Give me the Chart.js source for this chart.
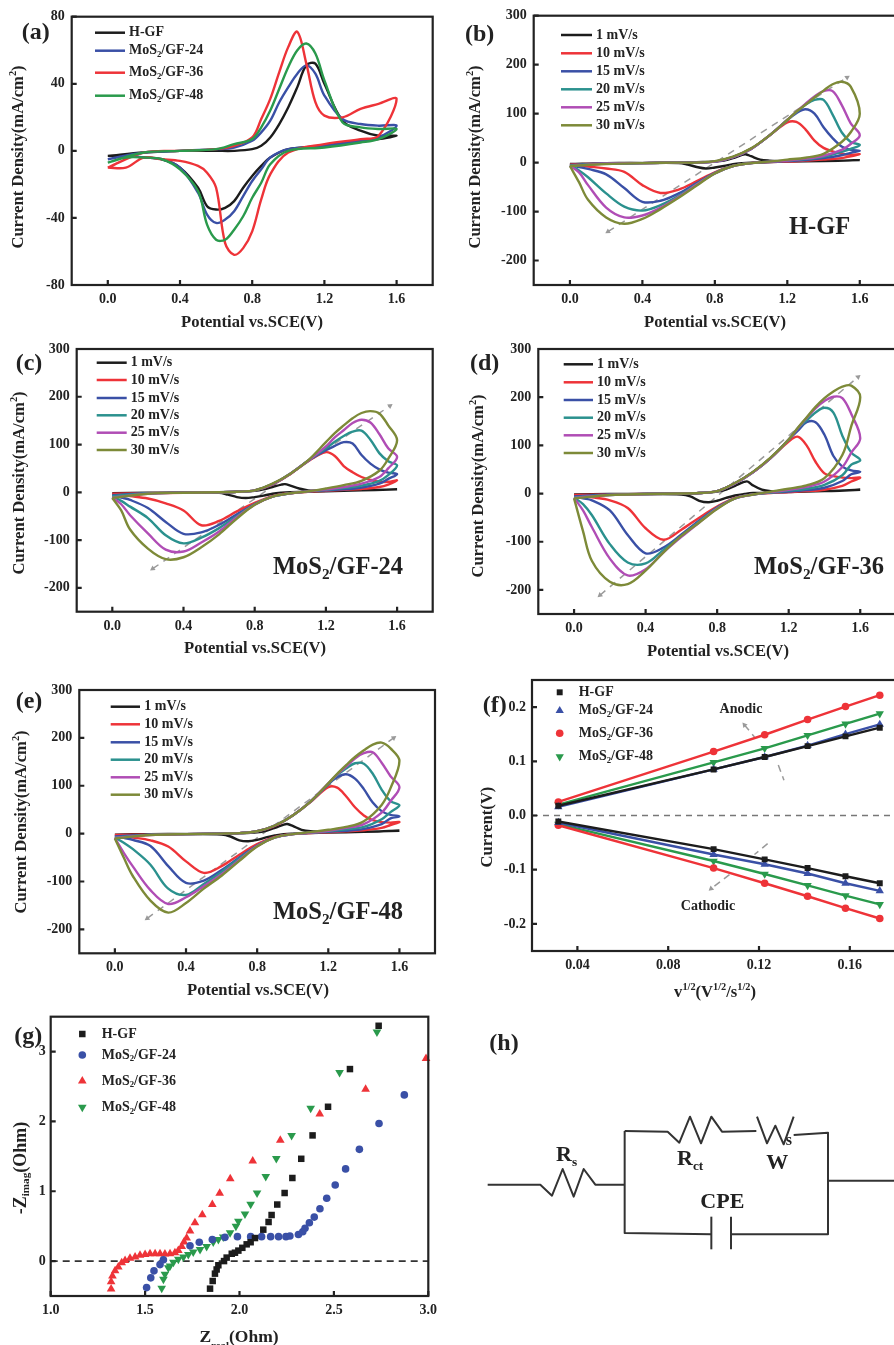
<!DOCTYPE html>
<html>
<head>
<meta charset="utf-8">
<title>CV and EIS panels</title>
<script src="https://cdn.jsdelivr.net/npm/chart.js@4/dist/chart.umd.js"></script>
<style>
  html, body { margin: 0; padding: 0; background: #fff; overflow: hidden; }
  /* the source figure is a soft scan, a touch of blur gets closer to it */
  #page { position: relative; width: 894px; height: 1345px; overflow: hidden; filter: blur(0.5px); }
  #page canvas { position: absolute; left: 0; top: 0; }
  #circuit { position: absolute; left: 447px; top: 1005px; }
  #circuit text { font-family: "Liberation Serif", serif; font-weight: bold; fill: #222; }
</style>
</head>
<body>
<div id="page">
  <canvas id="panelA" width="900" height="1345"></canvas>
  <canvas id="panelB" width="900" height="1345"></canvas>
  <canvas id="panelC" width="900" height="1345"></canvas>
  <canvas id="panelD" width="900" height="1345"></canvas>
  <canvas id="panelE" width="900" height="1345"></canvas>
  <canvas id="panelF" width="900" height="1345"></canvas>
  <canvas id="panelG" width="900" height="1345"></canvas>
  <!-- (h) is a circuit sketch, no data in it -->
  <svg id="circuit" width="447" height="340" viewBox="0 0 1341 1020">
    <g fill="none" stroke="#333" stroke-width="6" stroke-linejoin="round">
      <polyline points="122,539 280,539 315,572 347,492 380,575 410,492 445,539 533,539"/>
      <polyline points="533,378 533,684 793,688"/>
      <polyline points="533,378 662,380 697,413 729,335 762,415 793,335 825,380 928,378"/>
      <polyline points="930,335 960,415 985,362 1010,418 1040,335"/>
      <polyline points="1040,390 1143,383 1143,688 852,688"/>
      <line x1="793" y1="635" x2="793" y2="733"/>
      <line x1="852" y1="635" x2="852" y2="733"/>
      <line x1="1143" y1="527" x2="1341" y2="527"/>
    </g>
    <text x="127" y="134" font-size="72">(h)</text>
    <text x="327" y="468" font-size="66">R<tspan font-size="40" dy="14">s</tspan></text>
    <text x="690" y="480" font-size="66">R<tspan font-size="40" dy="14">ct</tspan></text>
    <text x="958" y="492" font-size="66">W</text>
    <text x="1016" y="420" font-size="48">s</text>
    <text x="760" y="608" font-size="66">CPE</text>
  </svg>
</div>

<script>
// ---- data ----

// (a) sweep, forward then back
const aPotential = [0,.2,.4,.6,.7,.8,.85,.9,.95,1,1.05,1.1,1.15,1.2,1.3,1.4,1.5,1.6,
  1.5,1.4,1.2,1,.9,.85,.8,.75,.7,.65,.6,.55,.5,.4,.3,.2,.1,0];
const aHGF = [-3,-1,0,0,0,1,3,8,16,26,38,51,52,40,18,12,9,9,
  7,6,3,1,-4,-9,-15,-22,-30,-34,-35,-33,-22,-10,-5,-4,-3,-3];
const aMoS24 = [-5,-1,0,1,2,6,11,18,29,38,46,51,46,33,19,16,15,15,
  8,6,3,1,-4,-11,-18,-27,-36,-41,-43,-38,-25,-10,-5,-4,-3,-5];
const aMoS36 = [-10,-1,0,1,3,8,19,31,47,62,71,52,29,21,20,25,28,31,
  9,7,4,-1,-14,-29,-48,-58,-62,-55,-22,-13,-9,-6,-5,-4,-10,-10];
const aMoS48 = [-7,-1,0,1,4,7,14,24,37,50,60,64,58,42,17,14,13,13,
  7,5,2,0,-8,-19,-28,-39,-47,-53,-53,-44,-24,-11,-5,-4,-4,-7];

// (b)-(e) shared sweep for 10-30 mV/s
const cvPotential = [0,.2,.4,.6,.7,.8,.9,1,1.1,1.2,1.25,1.3,1.35,1.4,1.45,1.5,1.55,1.6,
  1.55,1.5,1.4,1.3,1.2,1.1,1,.9,.8,.7,.6,.5,.4,.3,.2,.1,.05,0];
// 1 mV/s needs its own points around the small peaks
const slowPotential = [0,.3,.6,.7,.8,.85,.9,.95,.97,1,1.05,1.1,1.2,1.4,1.6,
  1.4,1.2,1,.95,.9,.85,.8,.75,.7,.65,.6,.4,.2,0];
const rateLabels = ["1 mV/s", "10 mV/s", "15 mV/s", "20 mV/s", "25 mV/s", "30 mV/s"];

const b1 = [-3,-1,0,1,2,4,9,16,17,13,6,4,3,3,5, 3,2,0,-1,-3,-7,-10,-12,-9,-4,-1,-1,-1,-3];
const b10 = [-4,-2,-1,0,0,2,11,28,55,82,83,68,45,30,23,18,16,17,
  13,9,6,4,2,1,-1,-7,-20,-38,-55,-62,-46,-19,-12,-8,-6,-4];
const b15 = [-5,-2,-1,0,0,2,11,28,55,87,101,109,100,72,50,33,26,24,
  20,15,9,5,3,1,-1,-7,-21,-42,-63,-78,-80,-52,-24,-13,-9,-5];
const b20 = [-6,-2,-1,0,0,2,11,28,55,87,103,118,128,128,98,62,42,36,
  28,22,12,7,4,2,-1,-7,-22,-44,-68,-87,-98,-90,-63,-30,-16,-6];
const b25 = [-7,-2,-1,0,0,2,11,28,55,87,104,120,135,146,146,118,80,56,
  38,26,14,8,4,2,-1,-7,-22,-45,-70,-92,-108,-112,-92,-46,-20,-7];
const b30 = [-7,-3,-1,0,0,3,12,29,55,87,104,118,133,147,160,165,155,100,
  62,42,18,10,6,2,-1,-7,-22,-47,-72,-95,-115,-125,-112,-76,-40,-7];

const c1 = [-2,-1,0,1,3,6,11,16,17,14,8,4,3,4,6, 4,2,0,-1,-3,-7,-10,-12,-10,-5,-1,-1,-1,-2];
const c10 = [-3,-2,-1,0,1,4,16,38,65,84,76,55,42,32,26,22,22,25,
  16,11,7,5,3,1,-2,-8,-22,-40,-60,-69,-38,-23,-13,-8,-6,-3];
const c15 = [-6,-2,-1,0,1,4,17,39,66,88,97,105,102,78,60,48,41,38,
  28,18,10,6,4,2,-2,-9,-25,-46,-68,-84,-87,-62,-33,-16,-11,-6];
const c20 = [-8,-2,-1,0,1,4,17,39,66,92,106,118,127,129,110,82,65,56,
  36,24,14,9,5,2,-2,-9,-25,-50,-75,-95,-107,-90,-54,-30,-18,-8];
const c25 = [-11,-3,-1,0,1,4,17,39,66,96,115,130,145,152,146,122,92,74,
  50,32,18,11,6,2,-2,-9,-26,-52,-82,-105,-124,-120,-86,-48,-25,-11];
const c30 = [-12,-3,-1,0,1,4,18,39,67,105,124,140,155,166,170,165,140,109,
  70,45,24,15,8,2,-2,-9,-26,-55,-88,-115,-136,-140,-118,-78,-38,-12];

const d1 = [-2,-1,0,1,4,8,16,24,25,17,8,5,4,5,8, 5,3,1,-1,-4,-9,-15,-18,-15,-6,-2,-1,-1,-2];
const d10 = [-3,-2,-1,0,1,5,21,44,74,108,118,100,66,42,36,33,32,33,
  25,16,8,5,3,1,-2,-9,-27,-50,-75,-96,-72,-30,-14,-8,-6,-3];
const d15 = [-6,-2,-1,0,1,5,21,44,74,112,130,148,148,122,78,56,48,45,
  40,26,12,7,4,2,-2,-10,-29,-56,-85,-112,-124,-86,-35,-14,-10,-6];
const d20 = [-8,-3,-1,0,1,5,21,44,74,112,135,152,168,178,168,120,85,69,
  60,38,18,10,6,2,-2,-10,-30,-58,-88,-117,-145,-143,-105,-45,-22,-8];
const d25 = [-9,-3,-1,0,1,5,21,44,74,112,135,157,177,192,201,198,165,115,
  85,55,25,14,8,3,-2,-10,-31,-60,-90,-122,-157,-170,-135,-70,-35,-9];
const d30 = [-10,-3,-1,0,1,5,22,45,75,112,136,158,180,198,212,222,224,200,
  140,80,32,17,10,4,-2,-10,-32,-60,-88,-122,-160,-188,-183,-140,-78,-10];

const e1 = [-2,-1,0,1,3,6,12,19,20,16,8,5,4,4,6, 4,2,0,-1,-4,-8,-13,-16,-14,-6,-2,-1,-1,-2];
const e10 = [-3,-2,-1,0,1,5,16,38,66,97,96,78,55,38,28,24,23,24,
  18,12,7,5,3,1,-1,-7,-22,-44,-68,-82,-58,-27,-14,-8,-6,-3];
const e15 = [-6,-2,-1,0,1,5,17,38,67,103,118,124,115,93,65,47,39,36,
  32,20,10,6,4,2,-1,-8,-25,-50,-76,-98,-103,-68,-26,-13,-9,-6];
const e20 = [-8,-2,-1,0,1,5,17,38,67,104,122,136,147,146,125,92,68,59,
  45,30,14,9,5,2,-1,-8,-26,-52,-80,-105,-128,-115,-65,-32,-19,-8];
const e25 = [-9,-3,-1,0,1,5,17,38,67,105,124,140,157,168,170,148,120,97,
  68,44,20,12,6,2,-1,-8,-26,-55,-85,-110,-133,-147,-118,-68,-40,-9];
const e30 = [-10,-3,-1,0,1,5,17,38,67,105,125,143,160,174,186,190,178,152,
  95,60,26,14,8,3,-1,-8,-27,-57,-88,-115,-145,-165,-140,-88,-50,-10];

// grey dashed guides across the loops, low end then high end
const bGuideX = [.21, 1.53],  bGuideY = [-141, 174];
const cGuideX = [.227, 1.56], cGuideY = [-160, 181];
const dGuideX = [.145, 1.588], dGuideY = [-211, 242];
const eGuideX = [.182, 1.568], eGuideY = [-177, 200];

// (f) peak current against root of scan rate
const scanRoot = [.0316, .1, .1225, .1414, .1581, .1732];
const fAnodicHGF = [.018, .085, .108, .128, .146, .162];
const fAnodic24 = [.016, .085, .108, .129, .150, .168];
const fAnodic36 = [.025, .118, .149, .177, .201, .222];
const fAnodic48 = [.020, .098, .124, .148, .169, .188];
const fCathodicHGF = [-.011, -.062, -.081, -.097, -.112, -.125];
const fCathodic24 = [-.013, -.072, -.090, -.107, -.125, -.139];
const fCathodic36 = [-.018, -.097, -.125, -.149, -.171, -.190];
const fCathodic48 = [-.016, -.084, -.108, -.129, -.148, -.164];

// short grey pointers next to the Anodic / Cathodic labels
const fPointer1X = [.1136, .118],  fPointer1Y = [.167, .145];
const fPointer2X = [.1285, .131],  fPointer2Y = [.093, .065];
const fPointer3X = [.1238, .118],  fPointer3Y = [-.052, -.072];
const fPointer4X = [.107, .0989],  fPointer4Y = [-.109, -.135];

// (g) Nyquist points
const gHgfRe = [1.844,1.858,1.87,1.879,1.888,1.918,1.932,1.959,1.976,1.994,2.015,2.038,2.059,2.082,2.126,2.154,2.17,2.2,2.239,2.28,2.327,2.387,2.469,2.585,2.737];
const gHgfIm = [-.395,-.285,-.18,-.12,-.06,0,.05,.105,.12,.15,.19,.24,.27,.33,.45,.56,.66,.81,.975,1.19,1.465,1.8,2.21,2.75,3.37];
const g24Re = [1.508,1.53,1.547,1.579,1.597,1.738,1.787,1.856,1.923,1.989,2.059,2.117,2.165,2.207,2.246,2.267,2.312,2.335,2.347,2.37,2.396,2.426,2.462,2.507,2.562,2.635,2.739,2.873];
const g24Im = [-.38,-.24,-.14,-.05,.02,.22,.27,.31,.34,.35,.35,.35,.35,.35,.35,.36,.38,.42,.47,.55,.63,.75,.9,1.09,1.32,1.6,1.97,2.38];
const g36Re = [1.32,1.32,1.327,1.341,1.358,1.376,1.394,1.42,1.447,1.473,1.5,1.526,1.553,1.579,1.605,1.632,1.658,1.676,1.694,1.706,1.72,1.738,1.764,1.803,1.856,1.895,1.951,2.07,2.216,2.425,2.668,2.988];
const g36Im = [-.4,-.295,-.215,-.14,-.085,-.025,.01,.04,.06,.085,.095,.105,.105,.105,.1,.105,.12,.15,.21,.275,.33,.43,.55,.665,.81,.97,1.18,1.435,1.73,2.105,2.46,2.9];
const g48Re = [1.588,1.597,1.605,1.623,1.632,1.65,1.676,1.703,1.729,1.755,1.791,1.826,1.861,1.888,1.914,1.95,1.981,1.994,2.029,2.059,2.093,2.139,2.195,2.276,2.377,2.53,2.728];
const g48Im = [-.39,-.26,-.19,-.095,-.07,-.015,.025,.06,.095,.13,.165,.21,.275,.31,.345,.405,.5,.57,.675,.815,.975,1.21,1.47,1.8,2.19,2.7,3.28];

// tick lists
const cvXTicks = [0, .4, .8, 1.2, 1.6];
const aYTicks = [-80, -40, 0, 40, 80];
const cvYTicks = [-200, -100, 0, 100, 200, 300];
const fXTicks = [.04, .08, .12, .16];
const fYTicks = [-.2, -.1, 0, .1, .2];
const gXTicks = [1, 1.5, 2, 2.5, 3];
const gYTicks = [0, 1, 2, 3];

// ---- drawing ----

const serif = '"Liberation Serif", "Times New Roman", serif';
const ink = "#222";
const cBlack = "#1c1c1c", cRed = "#ee3338", cBlue = "#3a50a6", cTeal = "#2b918e", cPurple = "#b04db5", cOlive = "#7d8a38", cGreen = "#2a9a4c", cGuide = "#9a9a9a";
const rateColors = [cBlack, cRed, cBlue, cTeal, cPurple, cOlive];

function pairs(xs, ys) {
  return xs.map((x, i) => ({ x: x, y: ys[i] }));
}

// text with _{sub} and ^{sup} parts, canvas has no markup of its own
function drawRich(ctx, item) {
  const size = item.size || 16;
  const drop = item.subDrop || .3;
  const parts = item.text.split(/([_^]\{[^}]*\})/).filter(p => p !== "").map(p => {
    if (p[0] === "_" && p[1] === "{") return { s: p.slice(2, -1), size: size * .62, dy: size * drop };
    if (p[0] === "^" && p[1] === "{") return { s: p.slice(2, -1), size: size * .62, dy: -size * .36 };
    return { s: p, size: size, dy: 0 };
  });
  let total = 0;
  parts.forEach(p => {
    ctx.font = "bold " + p.size + "px " + serif;
    p.w = ctx.measureText(p.s).width;
    total += p.w;
  });
  ctx.save();
  ctx.translate(item.x, item.y);
  if (item.rotate) ctx.rotate(-Math.PI / 2);
  ctx.fillStyle = ink;
  ctx.textAlign = "left";
  ctx.textBaseline = "middle";
  let cursor = item.align === "left" ? 0 : -total / 2;
  parts.forEach(p => {
    ctx.font = "bold " + p.size + "px " + serif;
    ctx.fillText(p.s, cursor, p.dy);
    cursor += p.w;
  });
  ctx.restore();
}

function makePanel(id, cfg) {
  const f = cfg.frame;
  const W = 900, H = 1345;

  const decor = {
    id: "decor",
    afterDraw(chart) {
      const ctx = chart.ctx;
      const area = chart.chartArea;
      ctx.save();
      ctx.strokeStyle = ink;
      ctx.lineWidth = 2.2;
      ctx.strokeRect(area.left, area.top, area.right - area.left, area.bottom - area.top);
      // ticks point inward
      ctx.beginPath();
      chart.scales.x.ticks.forEach(t => {
        const px = chart.scales.x.getPixelForValue(t.value);
        ctx.moveTo(px, area.bottom);
        ctx.lineTo(px, area.bottom - 5);
      });
      chart.scales.y.ticks.forEach(t => {
        const py = chart.scales.y.getPixelForValue(t.value);
        ctx.moveTo(area.left, py);
        ctx.lineTo(area.left + 5, py);
      });
      ctx.stroke();
      // legend, one row per labelled dataset
      const rows = chart.data.datasets.filter(d => d.label);
      rows.forEach((d, i) => {
        const y = cfg.legend.rows[i];
        if (cfg.legend.lineTo) {
          ctx.strokeStyle = d.borderColor;
          ctx.lineWidth = 2.5;
          ctx.beginPath();
          ctx.moveTo(cfg.legend.lineFrom, y);
          ctx.lineTo(cfg.legend.lineTo, y);
          ctx.stroke();
        } else {
          ctx.fillStyle = d.pointBackgroundColor;
          ctx.strokeStyle = d.pointBackgroundColor;
          Chart.helpers.drawPoint(ctx, { pointStyle: d.pointStyle, rotation: d.pointRotation, radius: d.pointRadius, borderWidth: 0 }, cfg.legend.marker, y);
        }
        drawRich(ctx, { text: d.label, x: cfg.legend.text, y: y, size: 14, align: "left" });
      });
      cfg.texts.forEach(t => drawRich(ctx, t));
      ctx.restore();
    }
  };

  return new Chart(document.getElementById(id), {
    type: "scatter",
    data: { datasets: cfg.datasets },
    options: {
      responsive: false,
      animation: false,
      devicePixelRatio: 1,
      layout: { padding: { left: 0, bottom: 0, top: f.top, right: W - f.right } },
      plugins: { legend: { display: false }, title: { display: false }, tooltip: { enabled: false } },
      scales: {
        x: {
          type: "linear",
          min: cfg.xMin,
          max: cfg.xMax,
          grid: { display: false, drawTicks: false },
          border: { display: false },
          afterFit(s) { s.height = H - f.bottom; },
          afterBuildTicks(s) { s.ticks = cfg.xTicks.map(v => ({ value: v })); },
          ticks: {
            autoSkip: false, maxRotation: 0, padding: 6, color: ink,
            font: { family: serif, weight: "bold", size: 14 },
            callback: v => v.toFixed(cfg.xDigits)
          }
        },
        y: {
          type: "linear",
          min: cfg.yMin,
          max: cfg.yMax,
          grid: { display: false, drawTicks: false },
          border: { display: false },
          afterFit(s) { s.width = f.left; },
          afterBuildTicks(s) { s.ticks = cfg.yTicks.map(v => ({ value: v })); },
          ticks: {
            autoSkip: false, padding: cfg.yPad || 7, color: ink,
            font: { family: serif, weight: "bold", size: 14 },
            callback: v => v.toFixed(cfg.yDigits)
          }
        }
      }
    },
    plugins: [decor]
  });
}

function cvLine(label, xs, ys, color, i) {
  return { label: label, data: pairs(xs, ys), showLine: true, tension: .35, borderColor: color, borderWidth: 2.4, pointRadius: 0, order: 20 - i };
}

function guide(xs, ys, rotations) {
  return { data: pairs(xs, ys), showLine: true, borderColor: cGuide, borderWidth: 1.5, borderDash: [7, 6],
    pointStyle: "triangle", pointRadius: 3.2, pointBackgroundColor: cGuide, pointBorderWidth: 0, pointRotation: rotations, order: 30 };
}

function ratePanel(curves, guideLine) {
  const sets = curves.map((ys, i) => cvLine(rateLabels[i], i === 0 ? slowPotential : cvPotential, ys, rateColors[i], i));
  sets.push(guideLine);
  return sets;
}

function fitLine(label, ys, color, style, rotation, radius) {
  return { label: label, data: pairs(scanRoot, ys), showLine: true, borderColor: color, borderWidth: 2.4,
    pointStyle: style, pointRotation: rotation, pointRadius: radius, pointBackgroundColor: color, pointBorderColor: color, pointBorderWidth: 0 };
}

function nyquist(label, xs, ys, color, style, rotation, radius) {
  return { label: label, data: pairs(xs, ys), showLine: false, clip: false,
    pointStyle: style, pointRotation: rotation, pointRadius: radius, pointBackgroundColor: color, pointBorderWidth: 0 };
}

function pointer(xs, ys, radii, rotations) {
  return { data: pairs(xs, ys), showLine: true, borderColor: cGuide, borderWidth: 1.5, borderDash: [7, 5],
    pointStyle: "triangle", pointRadius: radii, pointBackgroundColor: cGuide, pointBorderWidth: 0, pointRotation: rotations, order: 30 };
}

const yTitle = "Current Density(mA/cm^{2})";
const xTitle = "Potential vs.SCE(V)";
const titleSize = 16.6;

makePanel("panelA", {
  frame: { left: 71.7, top: 16.7, right: 432.7, bottom: 285 },
  xMin: -.2, xMax: 1.8, yMin: -80, yMax: 80, xTicks: cvXTicks, yTicks: aYTicks, xDigits: 1, yDigits: 0,
  datasets: [
    cvLine("H-GF", aPotential, aHGF, cBlack, 0),
    cvLine("MoS_{2}/GF-24", aPotential, aMoS24, cBlue, 1),
    cvLine("MoS_{2}/GF-36", aPotential, aMoS36, cRed, 2),
    cvLine("MoS_{2}/GF-48", aPotential, aMoS48, cGreen, 3)
  ],
  legend: { lineFrom: 95, lineTo: 125, text: 129, rows: [32.7, 50.7, 72.7, 95.7] },
  texts: [
    { text: "(a)", x: 21.7, y: 33, size: 24, align: "left" },
    { text: yTitle, x: 19, y: 157, size: titleSize, rotate: true },
    { text: xTitle, x: 252, y: 323, size: titleSize }
  ]
});

makePanel("panelB", {
  frame: { left: 533.7, top: 15.7, right: 896.6, bottom: 285 },
  xMin: -.2, xMax: 1.8, yMin: -250, yMax: 300, xTicks: cvXTicks, yTicks: cvYTicks, xDigits: 1, yDigits: 0,
  datasets: ratePanel([b1, b10, b15, b20, b25, b30], guide(bGuideX, bGuideY, [237, 57])),
  legend: { lineFrom: 561, lineTo: 592, text: 596, rows: [35, 53.3, 71.3, 89.3, 107.3, 125.3] },
  texts: [
    { text: "(b)", x: 465, y: 35, size: 24, align: "left" },
    { text: "H-GF", x: 789, y: 228, size: 24.5, align: "left" },
    { text: yTitle, x: 476, y: 157, size: titleSize, rotate: true },
    { text: xTitle, x: 715, y: 323, size: titleSize }
  ]
});

makePanel("panelC", {
  frame: { left: 76.7, top: 349, right: 432.7, bottom: 611.7 },
  xMin: -.2, xMax: 1.8, yMin: -250, yMax: 300, xTicks: cvXTicks, yTicks: cvYTicks, xDigits: 1, yDigits: 0,
  datasets: ratePanel([c1, c10, c15, c20, c25, c30], guide(cGuideX, cGuideY, [236, 56])),
  legend: { lineFrom: 96.7, lineTo: 126.7, text: 130.7, rows: [362.7, 380, 398, 415.3, 432.7, 450] },
  texts: [
    { text: "(c)", x: 15.7, y: 364, size: 24, align: "left" },
    { text: "MoS_{2}/GF-24", x: 273, y: 568, size: 24.5, align: "left" },
    { text: yTitle, x: 20, y: 483, size: titleSize, rotate: true },
    { text: xTitle, x: 255, y: 649, size: titleSize }
  ]
});

makePanel("panelD", {
  frame: { left: 538.3, top: 349, right: 896, bottom: 614 },
  xMin: -.2, xMax: 1.8, yMin: -250, yMax: 300, xTicks: cvXTicks, yTicks: cvYTicks, xDigits: 1, yDigits: 0,
  datasets: ratePanel([d1, d10, d15, d20, d25, d30], guide(dGuideX, dGuideY, [230, 50])),
  legend: { lineFrom: 563.7, lineTo: 593, text: 597, rows: [364.3, 382.3, 400, 417.7, 435.3, 453] },
  texts: [
    { text: "(d)", x: 470, y: 364, size: 24, align: "left" },
    { text: "MoS_{2}/GF-36", x: 754, y: 568, size: 24.5, align: "left" },
    { text: yTitle, x: 479, y: 486, size: titleSize, rotate: true },
    { text: xTitle, x: 718, y: 652, size: titleSize }
  ]
});

makePanel("panelE", {
  frame: { left: 79.3, top: 690, right: 435, bottom: 953.3 },
  xMin: -.2, xMax: 1.8, yMin: -250, yMax: 300, xTicks: cvXTicks, yTicks: cvYTicks, xDigits: 1, yDigits: 0,
  datasets: ratePanel([e1, e10, e15, e20, e25, e30], guide(eGuideX, eGuideY, [234, 54])),
  legend: { lineFrom: 110.7, lineTo: 140, text: 144.3, rows: [706.7, 724.3, 742.3, 759.7, 777.3, 794.7] },
  texts: [
    { text: "(e)", x: 15.7, y: 702, size: 24, align: "left" },
    { text: "MoS_{2}/GF-48", x: 273, y: 913, size: 24.5, align: "left" },
    { text: yTitle, x: 22, y: 822, size: titleSize, rotate: true },
    { text: xTitle, x: 258, y: 991, size: titleSize }
  ]
});

makePanel("panelF", {
  frame: { left: 532, top: 680, right: 897, bottom: 951 },
  xMin: .02, xMax: .18, yMin: -.25, yMax: .25, xTicks: fXTicks, yTicks: fYTicks, xDigits: 2, yDigits: 1, yPad: 6,
  datasets: [
    fitLine("H-GF", fAnodicHGF, cBlack, "rect", 0, 4.2),
    fitLine("MoS_{2}/GF-24", fAnodic24, cBlue, "triangle", 0, 4.8),
    fitLine("MoS_{2}/GF-36", fAnodic36, cRed, "circle", 0, 3.8),
    fitLine("MoS_{2}/GF-48", fAnodic48, cGreen, "triangle", 180, 4.8),
    fitLine("", fCathodicHGF, cBlack, "rect", 0, 4.2),
    fitLine("", fCathodic24, cBlue, "triangle", 0, 4.8),
    fitLine("", fCathodic36, cRed, "circle", 0, 3.8),
    fitLine("", fCathodic48, cGreen, "triangle", 180, 4.8),
    { data: pairs([.02, .18], [0, 0]), showLine: true, borderColor: "#777", borderWidth: 1.3, borderDash: [6, 5], pointRadius: 0 },
    pointer(fPointer1X, fPointer1Y, [3.2, 0], [320, 0]),
    pointer(fPointer2X, fPointer2Y, [0, 0], [0, 0]),
    pointer(fPointer3X, fPointer3Y, [0, 0], [0, 0]),
    pointer(fPointer4X, fPointer4Y, [0, 3.2], [0, 230])
  ],
  legend: { marker: 559.7, text: 578.7, rows: [692.3, 710.7, 733.3, 756.7] },
  texts: [
    { text: "(f)", x: 482.7, y: 706, size: 24, align: "left" },
    { text: "Anodic", x: 741, y: 709, size: 14 },
    { text: "Cathodic", x: 708, y: 906, size: 14 },
    { text: "Current(V)", x: 488, y: 827, size: titleSize, rotate: true },
    { text: "v^{1/2}(V^{1/2}/s^{1/2})", x: 715, y: 993, size: titleSize }
  ]
});

makePanel("panelG", {
  frame: { left: 50.7, top: 1016.7, right: 428.3, bottom: 1296 },
  xMin: 1, xMax: 3, yMin: -.5, yMax: 3.5, xTicks: gXTicks, yTicks: gYTicks, xDigits: 1, yDigits: 0, yPad: 5,
  datasets: [
    { data: pairs([1, 3], [0, 0]), showLine: true, borderColor: "#333", borderWidth: 1.6, borderDash: [7, 5], pointRadius: 0, order: 20 },
    nyquist("H-GF", gHgfRe, gHgfIm, cBlack, "rect", 0, 4.6),
    nyquist("MoS_{2}/GF-24", g24Re, g24Im, cBlue, "circle", 0, 3.8),
    nyquist("MoS_{2}/GF-36", g36Re, g36Im, cRed, "triangle", 0, 5),
    nyquist("MoS_{2}/GF-48", g48Re, g48Im, cGreen, "triangle", 180, 5)
  ],
  legend: { marker: 82.3, text: 101.7, rows: [1034, 1055, 1081, 1107.3] },
  texts: [
    { text: "(g)", x: 14.3, y: 1037, size: 24, align: "left" },
    { text: "-Z_{imag}(Ohm)", x: 21, y: 1168, size: 18, rotate: true },
    { text: "Z_{real}(Ohm)", x: 239, y: 1337, size: 17.5, subDrop: .55 }
  ]
});
</script>
</body>
</html>
